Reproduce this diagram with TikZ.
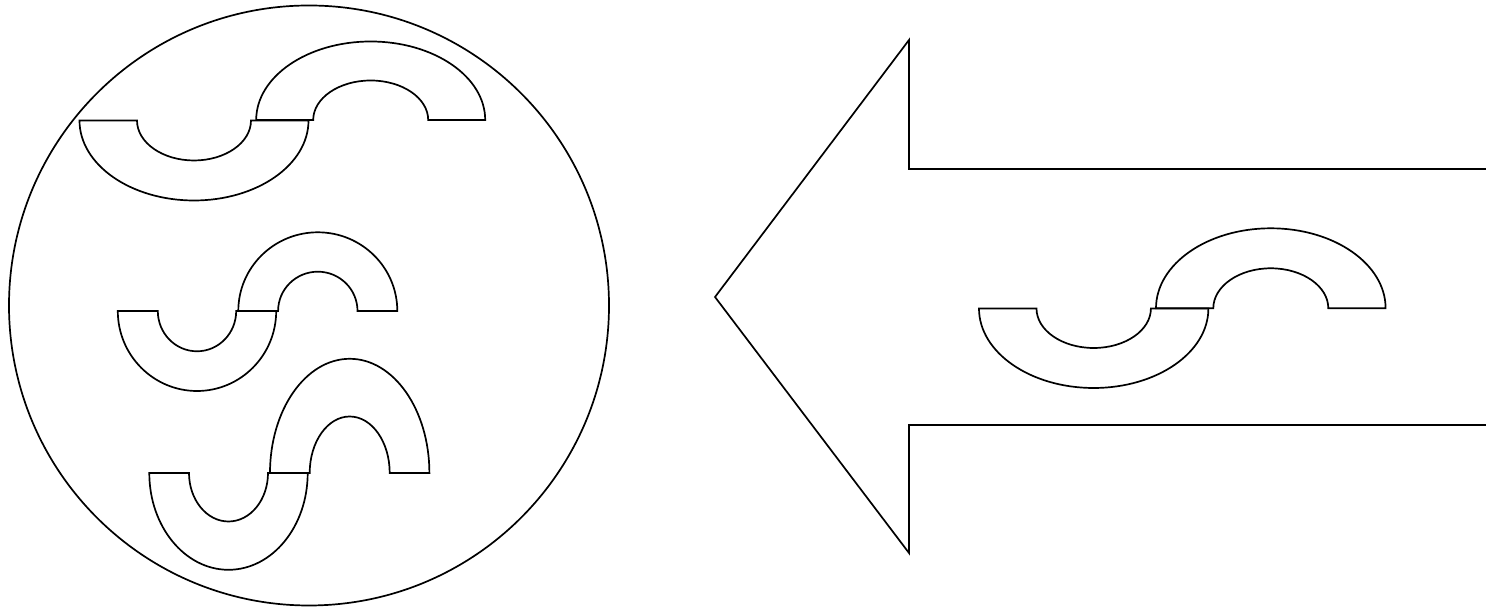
\documentclass[tikz,border=0pt]{standalone}
\begin{document}
\begin{tikzpicture}[x=1pt,y=1pt,
  outline/.style={draw=black,line width=1.7pt,line join=miter}]
\useasboundingbox (0,0) rectangle (1486,609);
% bowl: image centre x, image centre y, outer rx, outer ry, inner rx, inner ry
\newcommand{\mybowl}[6]{%
  \draw[outline] ({#1-#3},{609-#2}) arc[start angle=180,end angle=360,x radius=#3pt,y radius=#4pt]
    -- ({#1+#5},{609-#2}) arc[start angle=0,end angle=-180,x radius=#5pt,y radius=#6pt] -- cycle;}
\newcommand{\mydome}[6]{%
  \draw[outline] ({#1-#3},{609-#2}) arc[start angle=180,end angle=0,x radius=#3pt,y radius=#4pt]
    -- ({#1+#5},{609-#2}) arc[start angle=0,end angle=180,x radius=#5pt,y radius=#6pt] -- cycle;}
% circle
\node[outline,circle,minimum size=600pt,inner sep=0pt] (ring) at (309,303.5) {};
% S shapes in the circle
\mybowl{194}{120.5}{114.5}{80}{57}{40}
\mydome{370.7}{120}{114.5}{78.5}{57.5}{39.5}
\mybowl{197}{311}{79.2}{80}{39.2}{40.3}
\mydome{317.8}{311}{79.5}{78.7}{39.7}{39.3}
\mybowl{228.5}{473}{79.2}{96.8}{39.5}{48.5}
\mydome{349.7}{473}{79.7}{114.2}{40}{56.5}
% arrow
\draw[outline] (1486,440) -- (909,440) -- (909,569) -- (715,312) -- (909,56) -- (909,184) -- (1486,184);
% S shape in arrow
\mybowl{1093.7}{308.5}{114.7}{79.5}{57.2}{39.5}
\mydome{1270.8}{308.3}{114.8}{80}{57.5}{40}
\end{tikzpicture}
\end{document}
